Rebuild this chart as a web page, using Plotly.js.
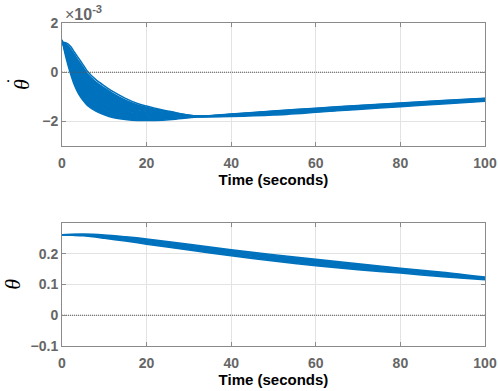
<!DOCTYPE html>
<html>
<head>
<meta charset="utf-8">
<script src="https://cdn.plot.ly/plotly-3.0.1.min.js"></script>
<style>html,body{margin:0;padding:0;background:#fff;}#chart{width:498px;height:391px;}</style>
</head>
<body>
<div id="chart"></div>
<script>
// ---- Data ----
// Top panel: theta-dot runs, in units of 1e-3 rad/s
const timeTop = [0, 1, 2, 3, 4, 5, 6, 8, 10, 12, 15, 18, 22, 26, 32, 40, 50, 60, 70, 80, 90, 100];
const thetaDotRunA = [1.32, 0.55, -0.05, -0.55, -0.90, -1.15, -1.35, -1.58, -1.73, -1.84, -1.92, -1.96, -1.96, -1.92, -1.82, -1.80, -1.74, -1.63, -1.51, -1.40, -1.29, -1.18];
const thetaDotRunB = [1.30, 0.67, 0.16, -0.29, -0.62, -0.87, -1.08, -1.33, -1.50, -1.63, -1.75, -1.83, -1.86, -1.86, -1.81, -1.78, -1.70, -1.60, -1.48, -1.37, -1.26, -1.16];
const thetaDotRunC = [1.28, 0.80, 0.37, -0.03, -0.34, -0.59, -0.81, -1.08, -1.27, -1.42, -1.58, -1.70, -1.76, -1.80, -1.80, -1.76, -1.67, -1.56, -1.45, -1.34, -1.23, -1.13];
const thetaDotRunD = [1.26, 0.92, 0.58, 0.23, -0.06, -0.31, -0.54, -0.82, -1.03, -1.22, -1.42, -1.56, -1.67, -1.74, -1.80, -1.74, -1.63, -1.53, -1.41, -1.31, -1.21, -1.11];
const thetaDotRunE = [1.24, 1.05, 0.79, 0.49, 0.22, -0.03, -0.27, -0.57, -0.80, -1.01, -1.25, -1.43, -1.57, -1.68, -1.79, -1.72, -1.60, -1.49, -1.38, -1.28, -1.18, -1.08];
const thetaDotRunF = [1.23, 1.14, 0.95, 0.70, 0.44, 0.19, -0.06, -0.40, -0.64, -0.86, -1.14, -1.34, -1.50, -1.64, -1.78, -1.71, -1.59, -1.47, -1.36, -1.26, -1.16, -1.07];
const thetaDotRunG = [1.22, 1.19, 1.05, 0.80, 0.55, 0.30, 0.04, -0.30, -0.55, -0.78, -1.06, -1.28, -1.46, -1.61, -1.78, -1.70, -1.58, -1.46, -1.35, -1.25, -1.15, -1.06];

// Bottom panel: theta runs (rad)
const timeBottom = [0, 5, 10, 15, 20, 30, 40, 50, 60, 70, 80, 90, 100];
const thetaRunA = [0.262, 0.258, 0.250, 0.241, 0.231, 0.212, 0.193, 0.176, 0.161, 0.148, 0.137, 0.125, 0.115];
const thetaRunB = [0.262, 0.260, 0.254, 0.245, 0.237, 0.218, 0.200, 0.183, 0.168, 0.154, 0.142, 0.130, 0.118];
const thetaRunC = [0.262, 0.262, 0.257, 0.250, 0.242, 0.225, 0.206, 0.190, 0.175, 0.161, 0.148, 0.135, 0.121];
const thetaRunD = [0.262, 0.264, 0.261, 0.255, 0.248, 0.231, 0.213, 0.197, 0.182, 0.167, 0.153, 0.140, 0.124];

// Reference (zero) lines
const zeroX = [0, 100];
const zeroY = [0, 0];

// Axis ticks
const xTicks = [0, 20, 40, 60, 80, 100];
const topYTicks = [-2, 0, 2];
const bottomYTicks = [-0.1, 0, 0.1, 0.2];

// ---- Styling ----
const blue = '#0072BD';
const sans = 'Liberation Sans, Arial, sans-serif';
const tickFont = {family: sans, size: 14, color: '#666666', weight: 'bold'};
const axisColor = '#8a8a8a';

function run(x, y, xa, ya, fill) {
  return {x: x, y: y, xaxis: xa, yaxis: ya, type: 'scatter', mode: 'lines',
    line: {color: blue, width: 1.5, shape: 'spline', smoothing: 0.8},
    fill: fill, fillcolor: blue, hoverinfo: 'skip', showlegend: false};
}
function zero(xa, ya) {
  return {x: zeroX, y: zeroY, xaxis: xa, yaxis: ya, type: 'scatter', mode: 'lines',
    line: {color: '#555555', width: 1, dash: '1px,1px'}, hoverinfo: 'skip', showlegend: false};
}

const traces = [
  run(timeTop, thetaDotRunA, 'x', 'y', 'none'),
  run(timeTop, thetaDotRunB, 'x', 'y', 'tonexty'),
  run(timeTop, thetaDotRunC, 'x', 'y', 'tonexty'),
  run(timeTop, thetaDotRunD, 'x', 'y', 'tonexty'),
  run(timeTop, thetaDotRunE, 'x', 'y', 'tonexty'),
  run(timeTop, thetaDotRunF, 'x', 'y', 'tonexty'),
  run(timeTop, thetaDotRunG, 'x', 'y', 'none'),
  zero('x', 'y'),
  run(timeBottom, thetaRunA, 'x2', 'y2', 'none'),
  run(timeBottom, thetaRunB, 'x2', 'y2', 'tonexty'),
  run(timeBottom, thetaRunC, 'x2', 'y2', 'tonexty'),
  run(timeBottom, thetaRunD, 'x2', 'y2', 'tonexty'),
  zero('x2', 'y2')
];

function xAxis(anchor) {
  return {
    anchor: anchor, domain: [0, 1], range: [0, 100], tickvals: xTicks,
    showline: true, mirror: 'ticks', linecolor: axisColor, linewidth: 1,
    ticks: 'inside', ticklen: 4, tickcolor: axisColor,
    showgrid: true, gridcolor: '#e3e3e3', gridwidth: 1, zeroline: false,
    tickfont: tickFont, ticklabelstandoff: 4,
    title: {text: 'Time (seconds)', standoff: 2,
      font: {family: sans, size: 15, color: '#000000', weight: 'bold'}}
  };
}
function yAxis(anchor, domain, range, ticks, label, standoff) {
  return {
    anchor: anchor, domain: domain, range: range, tickvals: ticks,
    showline: true, mirror: 'ticks', linecolor: axisColor, linewidth: 1,
    ticks: 'inside', ticklen: 4, tickcolor: axisColor,
    showgrid: true, gridcolor: '#e3e3e3', gridwidth: 1, zeroline: false,
    tickfont: tickFont,
    title: {text: label, standoff: standoff,
      font: {family: 'Liberation Serif, Times New Roman, serif', size: 22, color: '#000000', style: 'italic'}}
  };
}

const layout = {
  width: 498, height: 391,
  margin: {l: 62, r: 13, t: 23, b: 45, pad: 0},
  paper_bgcolor: '#ffffff', plot_bgcolor: '#ffffff',
  showlegend: false,
  xaxis: xAxis('y'),
  yaxis: yAxis('x', [0.619, 1], [-3, 2], topYTicks, 'θ', 6),
  xaxis2: xAxis('y2'),
  yaxis2: yAxis('x2', [0, 0.381], [-0.1, 0.3], bottomYTicks, 'θ', 10),
  annotations: [
    {xref: 'paper', yref: 'paper', x: 0.003, y: 1, xanchor: 'left', yanchor: 'bottom', yshift: -2,
     text: '×<b>10</b><sup><b>-3</b></sup>', showarrow: false,
     font: {family: sans, size: 16, color: '#666666'}},
    // dot of the theta-dot label (rotated label: dot sits to the left)
    {xref: 'paper', yref: 'paper', x: -0.1253, y: 0.822, xanchor: 'center', yanchor: 'middle',
     text: '•', showarrow: false, font: {family: sans, size: 7, color: '#000000'}}
  ]
};

Plotly.newPlot('chart', traces, layout, {displayModeBar: false, staticPlot: true});
</script>
</body>
</html>
